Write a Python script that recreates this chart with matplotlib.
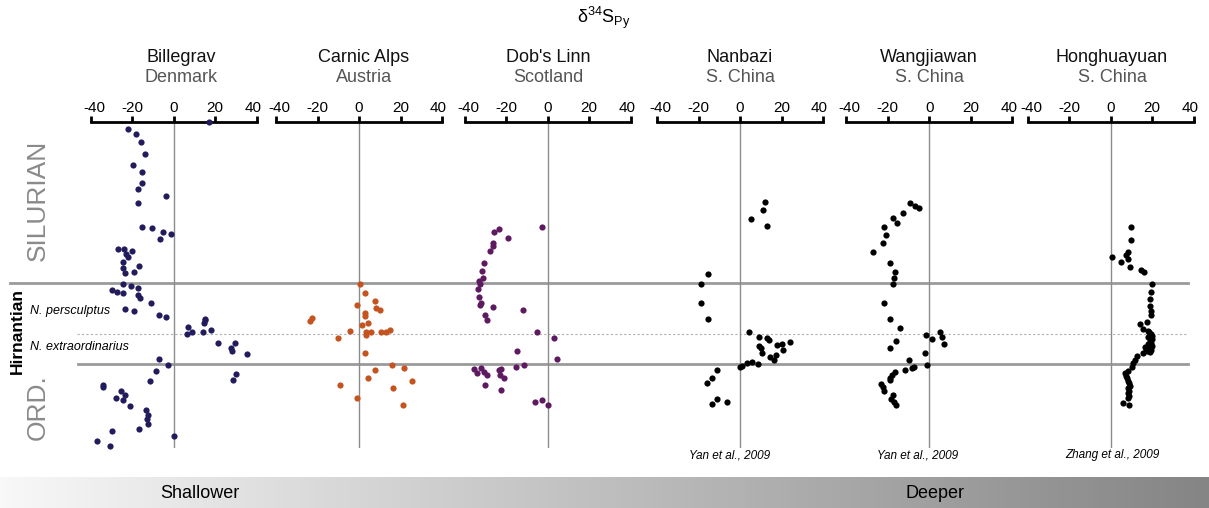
import numpy as np
import matplotlib
matplotlib.use("Agg")
import matplotlib.pyplot as plt
import matplotlib.transforms as mtransforms
from matplotlib.lines import Line2D
from matplotlib.colors import LinearSegmentedColormap

plt.rcParams['font.family'] = ['Liberation Sans', 'DejaVu Sans']
plt.rcParams['axes.unicode_minus'] = False

W, H = 1209, 508

sites = ["Billegrav", "Carnic Alps", "Dob's Linn", "Nanbazi", "Wangjiawan", "Honghuayuan"]
regions = ["Denmark", "Austria", "Scotland", "S. China", "S. China", "S. China"]
refs = [None, None, None, "Yan et al., 2009", "Yan et al., 2009", "Zhang et al., 2009"]
colors = ["#221b5c", "#c4531f", "#5e1a60", "#000000", "#000000", "#000000"]
xticks = [-40, -20, 0, 20, 40]

# composite stratigraphic height (arbitrary units) of the section boundaries
h_top = 326
h_sil_base = 165       # Ordovician / Silurian boundary
h_zone = 114           # persculptus / extraordinarius
h_hirn_base = 84       # base of Hirnantian

billegrav_d34s = [17.3, -21.8, -18.1, -15.7, -13.6, -19.4, -15.2, -15.0, -17.3, -3.5, -17.0,
                  -15.0, -10.4, -4.9, -1.3, -6.7, -26.6, -23.7, -20.1, -23.0, -22.1, -24.2,
                  -24.2, -16.5, -23.5, -19.2, -24.2, -20.5, -17.0, -29.6, -27.2, -24.3, -17.0,
                  -16.3, -11.0, -23.4, -19.0, -7.1, -3.8, 6.8, 15.0, 15.2, 14.6, 6.4, 8.8, 14.1,
                  17.9, 21.4, 29.5, 27.7, 28.3, 35.3, -7.0, -2.7, -8.3, -11.2, 30.0, 28.7,
                  -34.1, -34.1, -25.2, -23.4, -27.7, -24.3, -21.0, -13.4, -12.1, -12.9, -12.1,
                  -16.5, -29.8, -36.7, -30.5, 0.4]
billegrav_h = [326, 319, 314, 306, 294, 283, 276, 265, 259, 252, 245,
               221, 220, 216, 214, 209, 199, 199, 197, 194, 191, 186,
               180, 182, 175, 176, 164, 162, 160, 158, 156, 155, 153,
               150, 145, 139, 137, 133, 131, 121, 128, 129, 125, 114, 116, 116,
               118, 105, 105, 100, 97, 94, 89, 83, 77, 67, 74, 68,
               63, 61, 57, 53, 50, 48, 42, 38, 33, 29, 24,
               19, 17, 7, 2, 12]

carnic_d34s = [0.6, 2.7, 7.7, -1.0, 8.0, 10.3, 2.7, 3.1, -22.8, -23.6, 4.2, 1.6, -4.5, 3.4,
               5.6, 3.5, 10.7, 13.0, 14.9, -10.0, 2.7, 15.9, 21.8, 7.7, 4.3, 25.5, -9.2, 16.4,
               -1.1, 21.2]
carnic_h = [164, 155, 147, 143, 140, 138, 135, 132, 130, 127, 125, 123, 117, 116,
            116, 113, 116, 116, 118, 110, 95, 83, 80, 78, 70, 67, 63, 60,
            50, 43]

dobs_d34s = [-2.7, -23.6, -25.9, -19.3, -26.2, -26.5, -27.8, -30.7, -31.8, -31.2, -33.1,
             -32.5, -33.4, -33.1, -32.3, -32.5, -26.5, -11.8, -30.4, -29.1, -5.3, 3.0, -14.8,
             4.3, -11.4, -15.1, -35.3, -32.3, -34.2, -30.7, -29.4, -22.3, -23.6, -22.8, -21.1,
             -30.0, -22.4, -6.3, -2.7, 0.0]
dobs_h = [221, 219, 216, 210, 205, 202, 197, 185, 177, 170, 167,
          164, 159, 151, 145, 143, 141, 138, 133, 128, 116, 110, 97,
          89, 83, 81, 79, 80, 75, 76, 73, 79, 78, 73, 70,
          63, 58, 46, 48, 43]

nanbazi_d34s = [12.0, 11.1, 5.1, 12.9, -15.4, -18.9, -18.9, -15.6, 4.5, 9.0, 13.2, 14.1, 9.2,
                10.1, 10.6, 18.0, 20.2, 24.1, 20.6, 17.5, 14.6, 16.4, 8.7, 5.9, 3.2, 1.0, -0.2,
                -10.9, -13.3, -15.8, -11.2, -13.5, -6.4]
nanbazi_h = [246, 238, 229, 222, 174, 164, 145, 129, 116, 111, 110, 108, 102,
             100, 95, 103, 104, 106, 98, 93, 91, 88, 84, 86, 85, 82, 81,
             78, 70, 65, 49, 44, 46]

wangjiawan_d34s = [-9.2, -7.0, -4.8, -12.8, -17.6, -15.6, -21.7, -21.0, -22.2, -27.3, -18.8,
                   -16.5, -16.9, -17.3, -21.7, -18.8, -14.0, -1.6, 1.3, 5.3, 6.3, 7.2, -15.9,
                   -19.1, -1.9, -9.6, -7.5, -8.2, -1.0, -11.9, -16.7, -18.0, -18.9, -18.8,
                   -23.3, -22.3, -22.0, -17.5, -18.5, -17.2, -16.2]
wangjiawan_h = [245, 242, 240, 235, 230, 225, 221, 213, 205, 196, 185,
                176, 170, 164, 145, 129, 120, 113, 109, 116, 111, 104, 107,
                100, 95, 88, 81, 80, 83, 78, 76, 73, 70, 68,
                64, 61, 57, 53, 49, 46, 43]

honghuayuan_d34s = [9.6, 9.6, 8.3, 7.2, 0.5, 8.5, 4.8, 9.2, 14.5, 15.9, 20.1, 19.6, 18.9, 18.9,
                    19.4, 19.6, 17.3, 14.1, 15.4, 17.8, 18.6, 19.3, 19.7, 18.2, 19.8, 18.9,
                    19.5, 18.1, 19.9, 18.7, 19.3, 17.6, 18.8, 17.1, 16.6, 15.7, 12.5, 11.7,
                    10.9, 10.1, 8.5, 6.9, 7.7, 8.2, 9.0, 9.2, 8.4, 8.8, 8.5, 9.0, 8.1, 6.1, 9.0,
                    7.5]
honghuayuan_h = [221, 208, 196, 193, 191, 189, 186, 181, 178, 176, 164, 156, 149, 142,
                 137, 133, 126, 124, 119, 117, 116, 114, 112, 111, 109, 107,
                 105, 104, 102, 100, 98, 97, 96, 99, 101, 95, 92, 88,
                 85, 81, 77, 75, 70, 67, 65, 62, 60, 57, 55, 52, 50, 45, 43,
                 72]

d34s = [billegrav_d34s, carnic_d34s, dobs_d34s, nanbazi_d34s, wangjiawan_d34s, honghuayuan_d34s]
heights = [billegrav_h, carnic_h, dobs_h, nanbazi_h, wangjiawan_h, honghuayuan_h]

# panel placement in pixels: position of the zero line, half width of -40..40
zero_px = [173.5, 359, 547.7, 740, 929.3, 1110.7]
half_w = 83
ax_top, ax_bot = 122, 448
title_px = [181, 364, 548, 740, 929, 1112]
ref_px = [None, None, None, 730, 918, 1112]

fig = plt.figure(figsize=(W / 100, H / 100), dpi=100)

axes = []
for i in range(6):
    left = (zero_px[i] - half_w) / W
    ax = fig.add_axes([left, (H - ax_bot) / H, 2 * half_w / W, (ax_bot - ax_top) / H])
    ax.set_facecolor('none')
    ax.set_xlim(-40, 40)
    ax.set_ylim(0, h_top)
    for s in ['left', 'right', 'bottom']:
        ax.spines[s].set_visible(False)
    ax.spines['top'].set_linewidth(2)
    ax.xaxis.tick_top()
    ax.set_xticks(xticks)
    ax.set_xticklabels([])
    ax.tick_params(axis='x', direction='out', length=4, width=2)
    ax.set_yticks([])
    # tick labels drawn by hand so the end values of neighbouring panels stay apart
    for v in xticks:
        dx = -2.5 if v == 40 else (2.5 if v == -40 else 0)
        ax.annotate(str(v), xy=(v, 1), xycoords=('data', 'axes fraction'),
                    xytext=(dx, 7.4), textcoords='offset points',
                    ha='center', va='baseline', fontsize=11)
    ax.axvline(0, color='#8c8c8c', lw=1, zorder=0)
    ax.scatter(d34s[i], heights[i], s=20, color=colors[i], linewidths=0, zorder=3, clip_on=False)
    fig.text(title_px[i] / W, 1 - 57 / H, sites[i], ha='center', va='center', fontsize=13, color='#111111')
    fig.text(title_px[i] / W, 1 - 77 / H, regions[i], ha='center', va='center', fontsize=13, color='#555555')
    if refs[i]:
        fig.text(ref_px[i] / W, 1 - 455 / H, refs[i], ha='center', va='center', fontsize=8.5,
                 style='italic', family=['Liberation Sans Narrow', 'Liberation Sans'])
    axes.append(ax)

# boundaries run across all panels
trans = mtransforms.blended_transform_factory(fig.transFigure, axes[0].transData)
fig.add_artist(Line2D([10 / W, 1188 / W], [h_sil_base] * 2, transform=trans,
                      color='#9a9a9a', lw=2, zorder=-1))
fig.add_artist(Line2D([78 / W, 1188 / W], [h_hirn_base] * 2, transform=trans,
                      color='#9a9a9a', lw=2, zorder=-1))
fig.add_artist(Line2D([77 / W, 1188 / W], [h_zone] * 2, transform=trans,
                      color='#b0b0b0', lw=0.8, ls=(0, (2, 2)), zorder=-1))

fig.text(604 / W, 1 - 18 / H, r'δ$\mathregular{^{34}S_{Py}}$', ha='center', va='center', fontsize=13)

fig.text(38 / W, 1 - 200 / H, 'SILURIAN', rotation=90, ha='center', va='center', fontsize=19, color='#8a8a8a')
fig.text(38 / W, 1 - 407 / H, 'ORD.', rotation=90, ha='center', va='center', fontsize=19, color='#8a8a8a')
fig.text(17 / W, 1 - 331 / H, 'Hirnantian', rotation=90, ha='center', va='center', fontsize=12.5, fontweight='bold')
fig.text(30 / W, 1 - 311 / H, 'N. persculptus', ha='left', va='center', fontsize=9, style='italic')
fig.text(30 / W, 1 - 347 / H, 'N. extraordinarius', ha='left', va='center', fontsize=9, style='italic')

# water depth gradient along the bottom
gax = fig.add_axes([0, 0, 1, 31 / H], zorder=-2)
cmap = LinearSegmentedColormap.from_list('depth', ['#f8f8f8', '#858585'])
gax.imshow(np.linspace(0, 1, 256)[None, :], aspect='auto', cmap=cmap, extent=[0, 1, 0, 1])
gax.axis('off')
fig.text(200 / W, 1 - 494 / H, 'Shallower', ha='center', va='center', fontsize=13)
fig.text(935 / W, 1 - 494 / H, 'Deeper', ha='center', va='center', fontsize=13)

fig.savefig('out.png', dpi=100)
